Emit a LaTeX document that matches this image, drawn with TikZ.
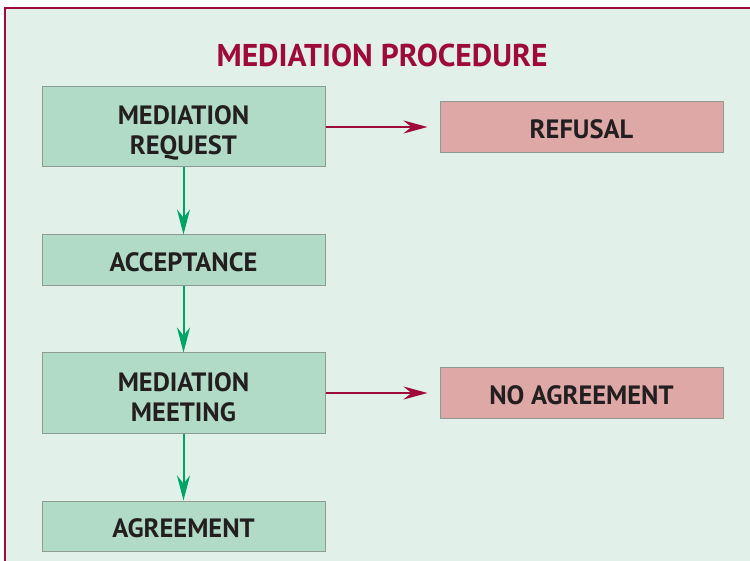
\documentclass[tikz,border=0pt]{standalone}
\usepackage{fontspec}
\setmainfont{PT Sans}
\usetikzlibrary{positioning,arrows.meta}
\definecolor{paneback}{HTML}{E2F0EA}
\definecolor{crimson}{HTML}{9E0B3A}
\definecolor{stepgreen}{HTML}{B1DBC7}
\definecolor{stepred}{HTML}{DDA8A6}
\definecolor{stepline}{HTML}{8E9A94}
\definecolor{flowgreen}{HTML}{00A464}
\definecolor{darktext}{HTML}{231F20}

\begin{document}
\begin{tikzpicture}[x=1pt,y=-1pt,
			stepbox/.style={draw=stepline,line width=1pt,fill=stepgreen,minimum width=283pt,minimum height=51pt,inner sep=0pt,align=center,text=darktext,text height=22.5pt,text depth=0pt,font=\fontsize{26.5}{30}\selectfont\bfseries},
			tallbox/.style={stepbox,minimum height=80pt,text height=56pt},
			outbox/.style={stepbox,fill=stepred},
			goon/.style={draw=flowgreen,line width=2pt,-{Stealth[length=25pt,width=13pt,inset=8pt]}},
			stop/.style={draw=crimson,line width=2pt,-{Stealth[length=24pt,width=13pt,inset=8pt]}}]
			\useasboundingbox (0,0) rectangle (750,561);
			\fill[white] (0,0) rectangle (750,561);
			\draw[crimson,line width=2pt,fill=paneback] (4.5,8) rectangle (770,580);
			\node (title) at (382,55) [text=crimson,font=\fontsize{31.5}{34}\selectfont\bfseries] {MEDIATION PROCEDURE};

			\node (request) at (183.5,127) [tallbox] {MEDIATION\\REQUEST};
			\node (accept) [stepbox,below=67pt of request] {ACCEPTANCE};
			\node (meeting) [tallbox,below=66pt of accept] {MEDIATION\\MEETING};
			\node (agree) [stepbox,below=67pt of meeting,minimum height=50pt] {AGREEMENT};

			\node (refusal) [outbox,right=114pt of request] {REFUSAL};
			\node (noagree) [outbox,right=114pt of meeting] {NO AGREEMENT};

			\draw[goon] (request) -- (accept);
			\draw[goon] (accept) -- (meeting);
			\draw[goon] (meeting) -- (agree);
			\draw[stop] (request) -- ([xshift=-12pt]refusal.west);
			\draw[stop] (meeting) -- ([xshift=-12pt]noagree.west);
		\end{tikzpicture}
\end{document}
